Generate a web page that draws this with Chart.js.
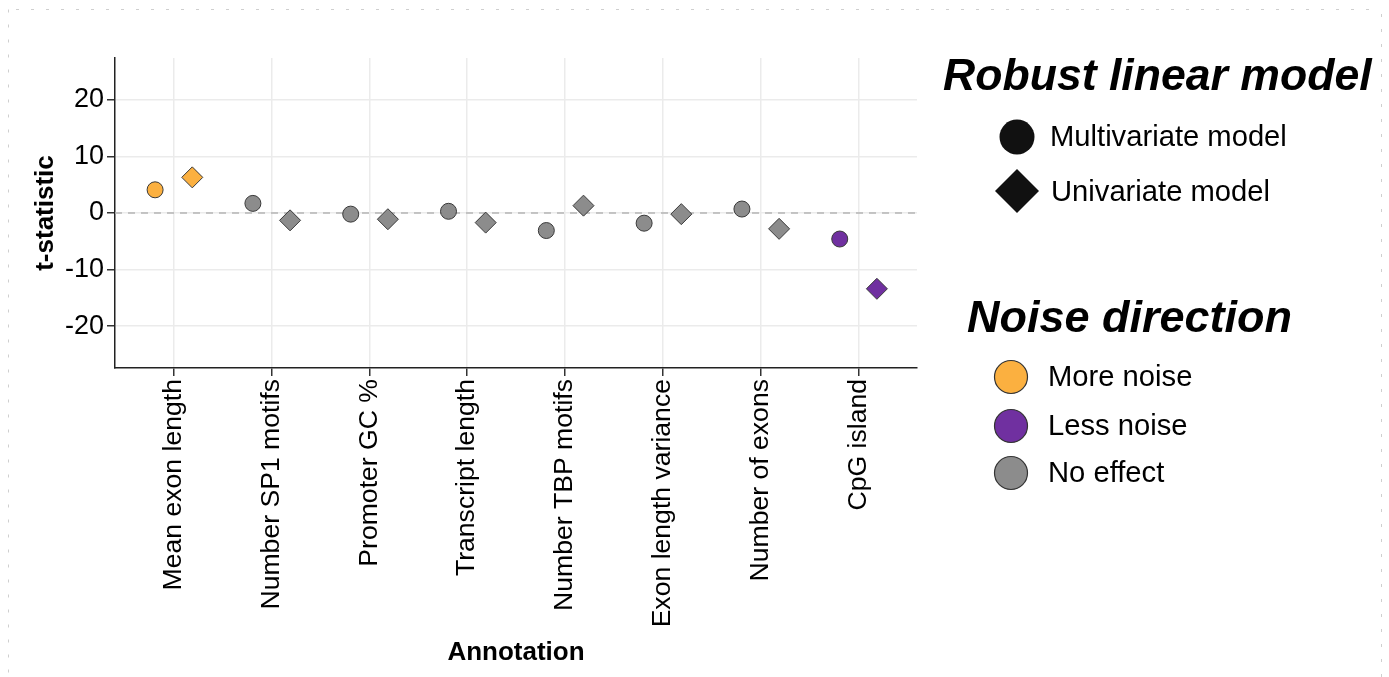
<!DOCTYPE html>
<html>
<head>
<meta charset="utf-8">
<script src="https://cdn.jsdelivr.net/npm/chart.js@4/dist/chart.umd.min.js"></script>
<style>
  html, body { margin: 0; padding: 0; background: #ffffff; }
  #wrap { position: relative; width: 1389px; height: 677px; }
  canvas { display: block; }
</style>
</head>
<body>
<div id="wrap"><canvas id="c" width="1389" height="677"></canvas></div>
<script>
// ---- Data ----
const categories = ["Mean exon length", "Number SP1 motifs", "Promoter GC %", "Transcript length",
                    "Number TBP motifs", "Exon length variance", "Number of exons", "CpG island"];
const multivariateT = [4.1, 1.7, -0.2, 0.3, -3.1, -1.8, 0.7, -4.6];
const univariateT   = [6.3, -1.3, -1.1, -1.7, 1.3, -0.2, -2.8, -13.4];
const multivariateDirection = ["More noise", "No effect", "No effect", "No effect", "No effect", "No effect", "No effect", "Less noise"];
const univariateDirection   = ["More noise", "No effect", "No effect", "No effect", "No effect", "No effect", "No effect", "Less noise"];
const yTicks = [-20, -10, 0, 10, 20];
const modelLegend = ["Multivariate model", "Univariate model"];
const directionLegend = ["More noise", "Less noise", "No effect"];

// ---- Styles ----
const directionColors = { "More noise": "#FBB040", "Less noise": "#7030A0", "No effect": "#8C8C8C" };
const FONT = "'Liberation Sans', Arial, Helvetica, sans-serif";
const DODGE = 0.19;

const multiPoints = multivariateT.map((v, i) => ({ x: i - DODGE, y: v }));
const uniPoints = univariateT.map((v, i) => ({ x: i + DODGE, y: v }));

const zeroLine = {
  id: 'zeroLine',
  beforeDatasetsDraw(chart) {
    const { ctx, chartArea, scales } = chart;
    const y = scales.y.getPixelForValue(0);
    ctx.save();
    ctx.strokeStyle = '#b5b5b5';
    ctx.lineWidth = 1.5;
    ctx.setLineDash([7, 6]);
    ctx.beginPath();
    ctx.moveTo(chartArea.left, y);
    ctx.lineTo(chartArea.right, y);
    ctx.stroke();
    ctx.restore();
  }
};

const frame = {
  id: 'frame',
  beforeDraw(chart) {
    const { ctx } = chart;
    ctx.save();
    ctx.fillStyle = '#ffffff';
    ctx.fillRect(0, 0, chart.width, chart.height);
    ctx.strokeStyle = '#cfcfcf';
    ctx.lineWidth = 1;
    ctx.setLineDash([3, 12]);
    ctx.beginPath();
    ctx.moveTo(8.5, 9.5); ctx.lineTo(8.5, 677);
    ctx.moveTo(16, 9.5); ctx.lineTo(1381, 9.5);
    ctx.moveTo(1381.5, 14); ctx.lineTo(1381.5, 677);
    ctx.stroke();
    ctx.restore();
  }
};

const customLegend = {
  id: 'customLegend',
  afterDraw(chart) {
    const { ctx } = chart;
    ctx.save();
    ctx.textBaseline = 'middle';
    ctx.fillStyle = '#000';
    // Title 1
    ctx.font = `italic bold 44.6px ${FONT}`;
    ctx.textAlign = 'left';
    ctx.fillText("Robust linear model", 943, 78);
    // shape legend
    ctx.fillStyle = '#111';
    ctx.beginPath(); ctx.arc(1017, 137, 17.5, 0, Math.PI * 2); ctx.fill();
    ctx.beginPath();
    ctx.moveTo(1017 - 22, 191); ctx.lineTo(1017, 191 - 22); ctx.lineTo(1017 + 22, 191); ctx.lineTo(1017, 191 + 22);
    ctx.closePath(); ctx.fill();
    ctx.font = `29.2px ${FONT}`;
    ctx.fillStyle = '#000';
    ctx.fillText(modelLegend[0], 1050, 138);
    ctx.fillText(modelLegend[1], 1051, 193);
    // Title 2
    ctx.font = `italic bold 45px ${FONT}`;
    ctx.fillText("Noise direction", 967, 320);
    ctx.font = `29.2px ${FONT}`;
    const ys = [377, 426, 473];
    directionLegend.forEach((d, i) => {
      ctx.beginPath(); ctx.arc(1011, ys[i], 16.5, 0, Math.PI * 2);
      ctx.fillStyle = directionColors[d]; ctx.fill();
      ctx.lineWidth = 1.2; ctx.strokeStyle = '#333'; ctx.stroke();
      ctx.fillStyle = '#000';
      ctx.fillText(d, 1048, ys[i] + 1);
    });
    ctx.restore();
  }
};

new Chart(document.getElementById('c'), {
  type: 'scatter',
  data: {
    datasets: [
      {
        label: modelLegend[0],
        data: multiPoints,
        pointStyle: 'circle',
        pointRadius: 8,
        pointHoverRadius: 8,
        backgroundColor: multivariateDirection.map(d => directionColors[d]),
        borderColor: '#3a3a3a',
        borderWidth: 1
      },
      {
        label: modelLegend[1],
        data: uniPoints,
        pointStyle: 'rectRot',
        pointRadius: 10.5,
        pointHoverRadius: 10.5,
        backgroundColor: univariateDirection.map(d => directionColors[d]),
        borderColor: '#3a3a3a',
        borderWidth: 1
      }
    ]
  },
  options: {
    responsive: false,
    animation: false,
    events: [],
    layout: { padding: { left: 20, right: 472, top: 58, bottom: 0 } },
    plugins: { legend: { display: false }, tooltip: { enabled: false }, title: { display: false } },
    scales: {
      x: {
        type: 'linear',
        min: -0.6,
        max: categories.length - 1 + 0.6,
        afterFit(scale) { scale.height = 309; },
        afterBuildTicks(scale) { scale.ticks = categories.map((c, i) => ({ value: i })); },
        ticks: {
          autoSkip: false,
          minRotation: 90,
          maxRotation: 90,
          padding: 3,
          color: '#000',
          font: { family: FONT, size: 26.6 },
          callback: (v) => categories[v]
        },
        grid: { color: '#ebebeb', lineWidth: 1.5, tickColor: '#333', tickLength: 8, tickWidth: 1.5 },
        border: { color: '#222', width: 1.5 },
        title: {
          display: true, text: 'Annotation', color: '#000',
          font: { family: FONT, size: 26, weight: 'bold' },
          padding: { top: 0, bottom: 9 }
        }
      },
      y: {
        type: 'linear',
        min: -27.4,
        max: 27.4,
        afterFit(scale) { scale.width = 95; },
        afterBuildTicks(scale) { scale.ticks = yTicks.map(v => ({ value: v })); },
        ticks: {
          padding: 3,
          color: '#000',
          font: { family: FONT, size: 27 }
        },
        grid: { color: '#ebebeb', lineWidth: 1.5, tickColor: '#333', tickLength: 8, tickWidth: 1.5 },
        border: { color: '#222', width: 1.5 },
        title: {
          display: true, text: 't-statistic', color: '#000',
          font: { family: FONT, size: 26, weight: 'bold' },
          padding: { top: 10, bottom: 0 }
        }
      }
    }
  },
  plugins: [frame, zeroLine, customLegend]
});
</script>
</body>
</html>
